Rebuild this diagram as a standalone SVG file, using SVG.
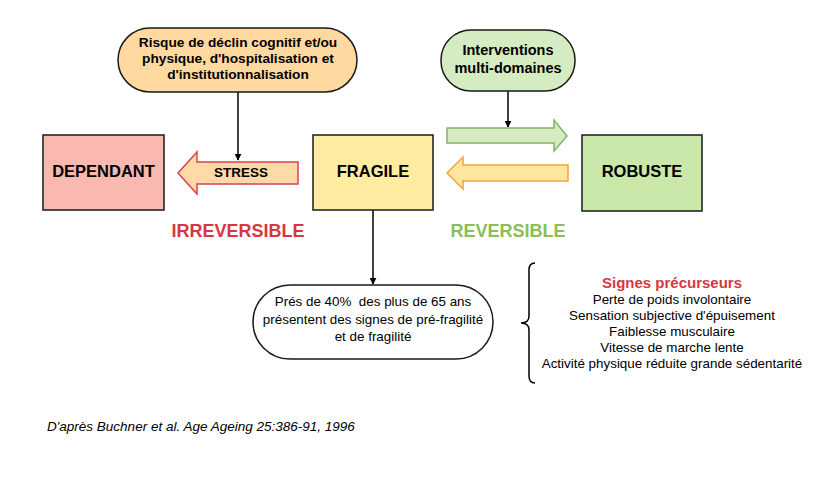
<svg xmlns="http://www.w3.org/2000/svg" width="835" height="479" viewBox="0 0 835 479">
<defs>
<style>
text{font-family:"Liberation Sans",Arial,sans-serif;fill:#000}
.b{font-weight:bold}
.box{stroke:#1a1a1a;stroke-width:1.5}
.ln{stroke:#000;stroke-width:1.5;fill:none}
.c{text-anchor:middle}
</style>
<marker id="ah" viewBox="0 0 10 10" refX="9" refY="5" markerWidth="7" markerHeight="7" markerUnits="userSpaceOnUse" orient="auto">
<path d="M0,0 L10,5 L0,10 z" fill="#000"/>
</marker>
</defs>
<rect width="835" height="479" fill="#fff"/>

<g id="connectors">
<line class="ln" x1="238" y1="92" x2="238" y2="160" marker-end="url(#ah)"/>
<line class="ln" x1="508" y1="91" x2="508" y2="127" marker-end="url(#ah)"/>
<line class="ln" x1="373" y1="210" x2="373" y2="284" marker-end="url(#ah)"/>
</g>

<g id="risque">
<rect x="118" y="28" width="239" height="64" rx="32" ry="32" fill="#ffd9a0" class="box"/>
<text class="b c" font-size="13.7" x="238" y="47">Risque de déclin cognitif et/ou</text>
<text class="b c" font-size="13.7" x="238" y="63">physique, d'hospitalisation et</text>
<text class="b c" font-size="13.7" x="238" y="79">d'institutionnalisation</text>
</g>

<g id="interventions">
<rect x="441" y="30" width="134" height="61" rx="30" ry="30" fill="#d5ecc2" class="box"/>
<text class="b c" font-size="14.5" x="508" y="55">Interventions</text>
<text class="b c" font-size="14.5" x="508" y="73">multi-domaines</text>
</g>

<g id="dependant">
<rect x="43" y="135" width="121" height="75" fill="#f9b8b0" class="box"/>
<text class="b c" font-size="16.5" x="103.5" y="177">DEPENDANT</text>
</g>

<g id="fragile">
<rect x="313" y="135" width="120" height="75" fill="#ffeca0" class="box"/>
<text class="b c" font-size="16.5" x="373" y="177">FRAGILE</text>
</g>

<g id="robuste">
<rect x="582" y="135" width="120" height="76" fill="#c9e8a9" class="box"/>
<text class="b c" font-size="16.5" x="642" y="177">ROBUSTE</text>
</g>

<g id="stress">
<path d="M298,162 L197,162 L197,152 L178,173 L197,194 L197,184 L298,184 Z" fill="#ffd9a8" stroke="#d9434e" stroke-width="1.5"/>
<text class="b c" font-size="13.5" x="241" y="177">STRESS</text>
</g>

<g id="arrow-green">
<path d="M447,128 L554,128 L554,120 L567,136 L554,151 L554,143 L447,143 Z" fill="#d5ecc2" stroke="#82b366" stroke-width="1.5"/>
</g>

<g id="arrow-orange">
<path d="M568,165 L463,165 L463,157 L447,173 L463,189 L463,181 L568,181 Z" fill="#ffe6a0" stroke="#f5a33a" stroke-width="1.5"/>
</g>

<g id="labels">
<text class="b c" font-size="18" x="238" y="237" style="fill:#d6383f">IRREVERSIBLE</text>
<text class="b c" font-size="18" x="508" y="237" style="fill:#88c057">REVERSIBLE</text>
</g>

<g id="prevalence">
<rect x="253" y="285" width="240" height="74" rx="37" ry="37" fill="#fff" class="box"/>
<text class="c" font-size="13.4" x="373" y="306" style="white-space:pre">Prés de 40%  des plus de 65 ans</text>
<text class="c" font-size="13.4" x="373" y="323.5">présentent des signes de pré-fragilité</text>
<text class="c" font-size="13.4" x="373" y="341">et de fragilité</text>
</g>

<g id="signes">
<path class="ln" d="M535,263 Q529,263 529,270 L529,316 Q529,323 521,323 Q529,323 529,330 L529,376 Q529,383 535,383"/>
<text class="b c" font-size="15" x="672" y="288" style="fill:#d6383f">Signes précurseurs</text>
<text class="c" font-size="13.4" x="672" y="304">Perte de poids involontaire</text>
<text class="c" font-size="13.4" x="672" y="320">Sensation subjective d'épuisement</text>
<text class="c" font-size="13.4" x="672" y="336">Faiblesse musculaire</text>
<text class="c" font-size="13.4" x="672" y="352">Vitesse de marche lente</text>
<text class="c" font-size="13.4" x="672" y="368">Activité physique réduite grande sédentarité</text>
</g>

<g id="source">
<text font-size="13.5" font-style="italic" x="47" y="431">D'après Buchner et al. Age Ageing 25:386-91, 1996</text>
</g>
</svg>
